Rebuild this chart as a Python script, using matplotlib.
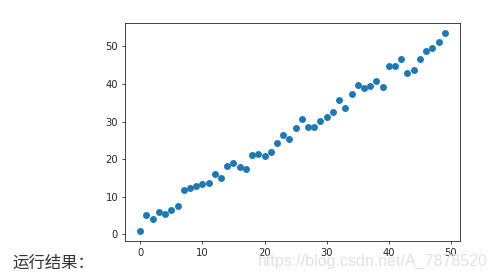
import numpy as np
import matplotlib
matplotlib.use("Agg")
import matplotlib.pyplot as plt

# scatter data
xs = list(range(50))
ys = [0.9, 5.3, 4.0, 6.1, 5.4, 6.4, 7.7, 11.7, 12.4, 13.0,
      13.5, 13.6, 16.0, 14.9, 18.1, 18.9, 17.9, 17.3, 21.1, 21.3,
      20.8, 21.9, 24.3, 26.5, 25.4, 28.3, 30.7, 28.6, 28.6, 30.1,
      31.2, 32.5, 35.7, 33.6, 37.3, 39.7, 38.9, 39.5, 40.8, 39.2,
      44.8, 44.8, 46.7, 42.9, 43.7, 46.7, 48.8, 49.6, 51.2, 53.6]

caption = "运行结果："
watermark = "https://blog.csdn.net/A_7878520"

fig = plt.figure(figsize=(4.95, 2.79), dpi=100)
fig.patch.set_facecolor("white")
ax = fig.add_axes([125 / 495, 1 - 241 / 279, 335 / 495, 218 / 279])

ax.scatter(xs, ys, s=25, color="#1f77b4", linewidths=0)
ax.set_xticks([0, 10, 20, 30, 40, 50])
ax.set_yticks([0, 10, 20, 30, 40, 50])
ax.tick_params(labelsize=7.2, length=2.5, width=0.6, pad=2.5, colors="#262626")
for sp in ax.spines.values():
    sp.set_linewidth(0.6)
    sp.set_color("#262626")

fig.text(12 / 495, 1 - 268 / 279, caption, fontsize=11.8, color="#333333",
         family=["Noto Sans CJK SC", "DejaVu Sans"], va="baseline")
fig.text(258 / 495, 1 - 266 / 279, watermark, fontsize=11.5, color="#e2e2e2",
         family="Liberation Sans", va="baseline")

fig.savefig("out.png", dpi=100, facecolor="white")
